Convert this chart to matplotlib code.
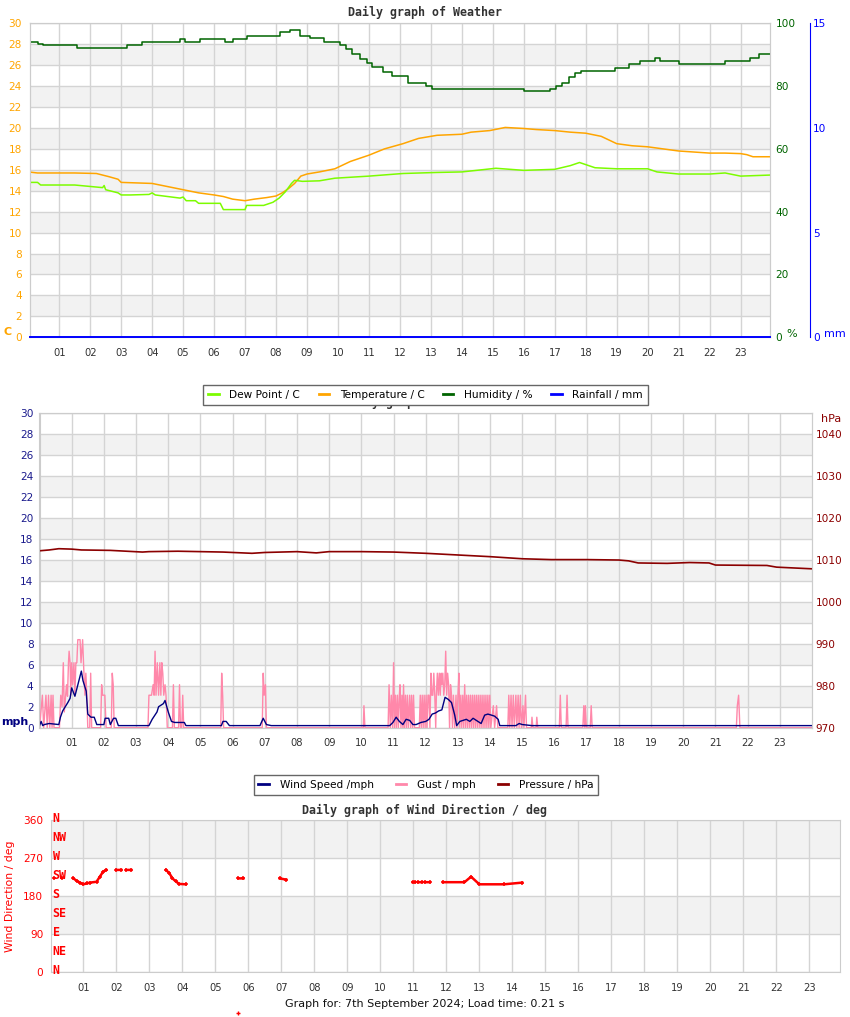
import numpy as np
import matplotlib
matplotlib.use('Agg')
from matplotlib import pyplot as plt
from matplotlib.lines import Line2D
from matplotlib import transforms

W, H = 850, 1017
nan = np.nan

hour_ticks = list(range(1, 24))
hour_labels = ['%02d' % h for h in hour_ticks]

# ---- weather (top) ----
temp_h = [0, 0.3, 0.8, 1.5, 2.2, 2.6, 2.9, 3.0, 3.5, 4.0, 4.5, 5.0, 5.5, 6.0, 6.3, 6.6, 7.0, 7.3,
          7.7, 8.0, 8.2, 8.4, 8.6, 8.8, 9.0, 9.4, 9.9, 10.4, 11.0, 11.5, 12.1, 12.6, 13.2, 14.0,
          14.3, 14.9, 15.4, 16.0, 16.4, 17.0, 17.5, 18.0, 18.5, 19.0, 19.5, 20.0, 20.5, 21.0,
          21.5, 22.0, 22.5, 23.0, 23.2, 23.4, 23.95]
temp_c = [15.8, 15.7, 15.7, 15.7, 15.65, 15.35, 15.1, 14.8, 14.75, 14.7, 14.4, 14.1, 13.8, 13.6,
          13.45, 13.2, 13.05, 13.2, 13.35, 13.5, 13.8, 14.2, 14.7, 15.4, 15.6, 15.8, 16.1, 16.8,
          17.4, 18.0, 18.5, 19.0, 19.3, 19.4, 19.6, 19.75, 20.05, 19.95, 19.85, 19.75, 19.6,
          19.5, 19.2, 18.5, 18.3, 18.2, 18.0, 17.8, 17.7, 17.6, 17.6, 17.55, 17.45, 17.25, 17.25]

dew_h = [0, 0.3, 0.4, 1.5, 2.4, 2.45, 2.5, 2.9, 3.0, 3.3, 3.9, 4.0, 4.1, 4.9, 5.0, 5.1, 5.4, 5.5,
         6.2, 6.3, 7.0, 7.05, 7.6, 7.9, 8.1, 8.3, 8.5, 8.6, 8.85, 9.4, 9.9, 11.0, 12.1, 13.2, 14.0,
         15.1, 16.0, 17.0, 17.5, 17.8, 18.3, 19.0, 20.0, 20.3, 21.0, 22.0, 22.5, 23.0, 23.95]
dew_c = [14.8, 14.8, 14.55, 14.55, 14.3, 14.5, 14.1, 13.8, 13.6, 13.6, 13.65, 13.8, 13.6, 13.3,
         13.4, 13.05, 13.05, 12.8, 12.8, 12.2, 12.2, 12.6, 12.6, 12.9, 13.3, 13.9, 14.7, 15.0,
         14.9, 14.95, 15.2, 15.4, 15.65, 15.75, 15.8, 16.15, 15.95, 16.05, 16.4, 16.7, 16.2,
         16.1, 16.1, 15.8, 15.6, 15.6, 15.7, 15.4, 15.5]

hum_h = [0, 0.33, 0.46, 1.58, 3.18, 3.66, 4.04, 4.9, 5.06, 5.54, 6.35, 6.62, 7.05, 8.13, 8.45,
         8.77, 9.1, 9.55, 10.05, 10.25, 10.45, 10.7, 10.95, 11.1, 11.45, 11.75, 12.25, 12.85,
         13.05, 16.0, 16.85, 17.05, 17.25, 17.45, 17.65, 17.85, 18.95, 19.4, 19.75, 20.25, 20.4,
         21.0, 22.5, 23.3, 23.6, 23.95]
hum_pct = [93.9, 93.3, 93.1, 92.0, 93.1, 93.9, 93.9, 94.9, 93.9, 94.9, 93.9, 95.0, 96.0, 97.1,
           97.8, 96.0, 95.2, 94.0, 93.1, 91.7, 90.1, 88.5, 87.3, 86.0, 84.6, 83.2, 80.9, 80.0,
           79.1, 78.3, 79.0, 80.0, 80.9, 83.0, 84.1, 84.9, 85.9, 86.9, 87.9, 88.9, 87.9, 87.0,
           87.9, 88.9, 90.2, 90.2]

rain_h = [0.04, 23.95]
rain_mm = [0, 0]

# ---- wind / pressure (middle) ----
wind_h = [0, 0.05, 0.1, 0.15, 0.3, 0.6, 0.65, 0.72, 0.8, 0.88, 0.95, 1.0, 1.05, 1.1, 1.2, 1.3,
          1.35, 1.45, 1.5, 1.6, 1.7, 1.78, 2.0, 2.04, 2.15, 2.2, 2.3, 2.37, 2.45, 3.4, 3.5, 3.65,
          3.7, 3.85, 3.9, 4.0, 4.1, 4.2, 4.5, 4.55, 5.65, 5.7, 5.8, 5.9, 6.85, 6.95, 7.05, 7.2,
          10.88, 10.98, 11.08, 11.18, 11.29, 11.39, 11.5, 11.6, 11.7, 11.85, 12.0, 12.1, 12.2,
          12.3, 12.4, 12.5, 12.6, 12.7, 12.8, 12.9, 12.96, 13.06, 13.16, 13.26, 13.37, 13.47,
          13.57, 13.72, 13.83, 13.93, 14.04, 14.14, 14.25, 14.3, 14.8, 14.9, 15.0, 15.3, 24.0]
wind_mph = [0.2, 0.6, 0.2, 0.3, 0.4, 0.3, 1.0, 1.6, 2.0, 2.4, 2.8, 3.8, 3.4, 3.0, 4.2, 5.4,
            4.5, 3.5, 1.3, 1.0, 1.0, 0.3, 0.3, 0.9, 0.9, 0.3, 0.9, 0.9, 0.2, 0.2, 0.8, 1.5,
            2.0, 2.3, 2.6, 1.5, 0.6, 0.5, 0.5, 0.2, 0.2, 0.6, 0.6, 0.2, 0.2, 0.9, 0.3, 0.2,
            0.2, 0.5, 1.0, 0.6, 0.3, 0.8, 0.7, 0.3, 0.3, 0.5, 0.6, 0.8, 1.3,
            1.4, 1.6, 1.7, 2.9, 2.7, 2.4, 1.2, 0.2, 0.6, 0.7, 0.8, 0.6, 0.9,
            0.7, 0.4, 1.2, 1.3, 1.2, 1.1, 0.8, 0.2, 0.2, 0.4, 0.3, 0.2, 0.2]

# gust readings as (hour, mph)
gust_pts = [(0.0, 0), (0.09, 3.1), (0.13, 0), (0.2, 3.1), (0.24, 0), (0.28, 3.1), (0.32, 0),
            (0.36, 3.1), (0.39, 0), (0.42, 3.1), (0.45, 0), (0.62, 0), (0.66, 3.1), (0.7, 2.0),
            (0.74, 6.2), (0.77, 1.5), (0.84, 4.1), (0.87, 3.0), (0.9, 6.2), (0.92, 7.3),
            (0.95, 6.2), (0.97, 3.1), (1.0, 6.2), (1.03, 4.1), (1.07, 6.2), (1.1, 3.1),
            (1.13, 6.2), (1.16, 6.2), (1.19, 8.4), (1.26, 8.4), (1.29, 6.2), (1.34, 8.4),
            (1.38, 5.2), (1.41, 3.1), (1.44, 5.2), (1.47, 3.1), (1.5, 0), (1.56, 0), (1.59, 5.2),
            (1.62, 0), (1.9, 0), (1.93, 4.1), (1.96, 3.1), (2.03, 3.1), (2.07, 0), (2.23, 0),
            (2.26, 5.2), (2.29, 4.1), (2.32, 0), (3.37, 0), (3.4, 3.1), (3.48, 3.1), (3.53, 4.1),
            (3.56, 3.1), (3.59, 7.3), (3.62, 3.1), (3.66, 6.2), (3.7, 3.1), (3.74, 6.2),
            (3.77, 3.1), (3.8, 6.2), (3.83, 5.2), (3.86, 3.1), (3.9, 4.1), (3.93, 3.1), (3.97, 0),
            (4.13, 0), (4.16, 4.1), (4.19, 0), (4.32, 0), (4.35, 4.1), (4.38, 0), (4.42, 0),
            (4.45, 3.1), (4.48, 0), (5.63, 0), (5.66, 5.2), (5.69, 3.1), (5.72, 0), (6.92, 0),
            (6.95, 5.2), (6.98, 3.1), (7.02, 4.1), (7.05, 0), (10.06, 0), (10.08, 2.1),
            (10.11, 0), (10.83, 0), (10.86, 4.1), (10.9, 0), (10.93, 3.1), (10.97, 0),
            (11.0, 6.2), (11.03, 0), (11.06, 3.1), (11.09, 0), (11.12, 3.1), (11.15, 0),
            (11.18, 3.1), (11.2, 4.1), (11.23, 0), (11.26, 3.1), (11.29, 0), (11.31, 4.1),
            (11.34, 0), (11.37, 3.1), (11.4, 0), (11.43, 3.1), (11.46, 0), (11.5, 3.1),
            (11.53, 0), (11.56, 3.1), (11.59, 0), (11.62, 3.1), (11.65, 0), (11.8, 0),
            (11.83, 3.1), (11.86, 0), (11.89, 3.1), (11.92, 0), (11.95, 3.1), (11.98, 0),
            (12.01, 3.1), (12.04, 0), (12.07, 3.1), (12.1, 3.1), (12.13, 0), (12.16, 5.2),
            (12.19, 3.1), (12.22, 3.1), (12.25, 5.2), (12.28, 3.1), (12.31, 0), (12.33, 3.1),
            (12.36, 5.2), (12.39, 3.1), (12.42, 5.2), (12.45, 3.1), (12.48, 5.2), (12.5, 4.1),
            (12.53, 5.2), (12.56, 3.1), (12.59, 4.1), (12.62, 7.3), (12.65, 3.1), (12.68, 5.2),
            (12.71, 4.1), (12.74, 0), (12.77, 4.1), (12.8, 3.1), (12.83, 0), (12.86, 3.1),
            (12.9, 0), (12.94, 3.1), (12.97, 0), (13.0, 3.1), (13.03, 5.2), (13.06, 0),
            (13.09, 3.1), (13.12, 0), (13.15, 3.1), (13.18, 0), (13.21, 4.1), (13.24, 0),
            (13.27, 3.1), (13.3, 0), (13.33, 3.1), (13.36, 0), (13.39, 3.1), (13.42, 0),
            (13.45, 3.1), (13.48, 0), (13.51, 3.1), (13.54, 0), (13.57, 3.1), (13.6, 0),
            (13.63, 3.1), (13.66, 0), (13.69, 3.1), (13.72, 0), (13.75, 3.1), (13.78, 0),
            (13.81, 3.1), (13.84, 0), (13.87, 3.1), (13.9, 0), (13.93, 3.1), (13.96, 0),
            (13.99, 3.1), (14.02, 0), (14.1, 2.1), (14.14, 0), (14.2, 2.1), (14.24, 0),
            (14.55, 0), (14.58, 3.1), (14.61, 0), (14.65, 3.1), (14.68, 0), (14.72, 3.1),
            (14.75, 0), (14.8, 3.1), (14.83, 0), (14.87, 3.1), (14.9, 0), (14.94, 3.1),
            (14.97, 0), (15.02, 2.1), (15.05, 0), (15.1, 3.1), (15.13, 0), (15.28, 0),
            (15.3, 1.0), (15.33, 0), (15.43, 0), (15.45, 1.0), (15.48, 0), (16.15, 0),
            (16.18, 3.1), (16.21, 0), (16.36, 0), (16.39, 3.1), (16.42, 0), (16.88, 0),
            (16.91, 2.1), (16.94, 0), (16.96, 2.1), (16.99, 0), (17.11, 0), (17.14, 2.1),
            (17.17, 0), (21.65, 0), (21.68, 2.1), (21.72, 3.1), (21.76, 0), (24.0, 0)]

pres_h = [0, 0.3, 0.6, 1.0, 1.3, 2.2, 3.2, 3.4, 4.3, 5.0, 5.7, 6.6, 7.0, 8.0, 8.6, 9.0, 10.0,
          11.0, 12.0, 13.0, 14.0, 15.0, 15.9, 17.0, 18.0, 18.3, 18.6, 19.5, 20.2, 20.8, 21.0,
          22.6, 22.9, 24.0]
pres_hpa = [1012.2, 1012.4, 1012.7, 1012.6, 1012.4, 1012.3, 1011.9, 1012.0, 1012.1, 1012.0,
            1011.9, 1011.6, 1011.8, 1012.0, 1011.7, 1012.0, 1012.0, 1011.9, 1011.6, 1011.2,
            1010.8, 1010.3, 1010.1, 1010.1, 1010.0, 1009.8, 1009.3, 1009.2, 1009.4, 1009.3,
            1008.8, 1008.7, 1008.3, 1007.9]

# ---- wind direction (bottom) ----
dir_h = [0.1, nan, 0.35, nan, 0.7, 0.8, 0.9, 1.0, 1.1, 1.2, 1.4, 1.5, 1.6, 1.7, nan, 2.0, 2.15,
         nan, 2.3, 2.45, nan, 3.5, 3.6, 3.7, 3.8, 3.9, 4.1, nan, 5.7, 5.85, nan, 6.95, 7.15, nan,
         10.98, 11.05, nan, 11.15, 11.25, nan, 11.35, 11.5, nan, 11.9, 12.55, 12.75, 13.0,
         13.75, 14.3]
dir_deg = [222, nan, 222, nan, 222, 216, 212, 208, 210, 212, 214, 226, 238, 242, nan, 242, 242,
           nan, 242, 242, nan, 242, 235, 222, 215, 209, 208, nan, 222, 222, nan, 222, 219, nan,
           213, 213, nan, 213, 213, nan, 213, 213, nan, 213, 213, 226, 208, 208, 212]

compass = ['N', 'NE', 'E', 'SE', 'S', 'SW', 'W', 'NW', 'N']
compass_deg = [0, 45, 90, 135, 180, 225, 270, 315, 360]

BAND = '#f2f2f2'
GRID = '#d4d4d4'


def rect(left, top, right, bottom):
    return [left / W, 1 - bottom / H, (right - left) / W, (bottom - top) / H]


def fig_text(x, y, s, **kw):
    fig.text(x / W, 1 - y / H, s, **kw)


def base_axes(box, xlim, ylim, bands, ylab_color, ypad):
    ax = fig.add_axes(box)
    ax.set_xlim(xlim)
    ax.set_ylim(ylim)
    for lo, hi in bands:
        ax.axhspan(lo, hi, color=BAND, lw=0, zorder=0)
    ax.set_xticks(hour_ticks)
    ax.set_xticklabels(hour_labels)
    ax.grid(True, color=GRID, lw=1)
    ax.set_axisbelow(True)
    ax.tick_params(axis='x', length=0, labelsize=7.2, labelcolor='#333333', pad=7.5)
    ax.tick_params(axis='y', length=0, labelsize=7.6, labelcolor=ylab_color, pad=ypad)
    for s in ax.spines.values():
        s.set_color('#cccccc')
    return ax


fig = plt.figure(figsize=(8.5, 10.17), dpi=100)
title_font = dict(family='DejaVu Sans Mono', weight='bold', fontsize=8.4, color='#333333',
                  ha='center', va='center')

# ---------------- top panel ----------------
ax_t = base_axes(rect(29.5, 23.3, 770, 337.3), (0.04, 23.95), (0, 30),
                 [(b, b + 2) for b in range(2, 30, 4)], '#ffa500', 5.5)
ax_t.set_yticks(range(0, 31, 2))
ax_t.plot(temp_h, temp_c, color='#ffa500', lw=1.1, zorder=3)
ax_t.plot(dew_h, dew_c, color='#7cfc00', lw=1.1, zorder=3)

ax_h = ax_t.twinx()
ax_h.set_ylim(0, 100)
ax_h.set_yticks(range(0, 101, 20))
ax_h.tick_params(length=0, labelsize=7.6, labelcolor='#006400', pad=4)
ax_h.plot(hum_h, hum_pct, color='#006400', lw=1.1, drawstyle='steps-post')
for s in ax_h.spines.values():
    s.set_color('#cccccc')

ax_r = ax_t.twinx()
ax_r.set_ylim(0, 15)
ax_r.set_yticks([0, 5, 10, 15])
ax_r.spines['right'].set_position(('axes', (810 - 29.5) / (770 - 29.5)))
ax_r.spines['right'].set_color('#0000ff')
for k in ['top', 'left', 'bottom']:
    ax_r.spines[k].set_visible(False)
ax_r.tick_params(length=0, labelsize=7.6, labelcolor='#0000ff', pad=2.4)
ax_r.plot(rain_h, rain_mm, color='#0000ff', lw=1.4, clip_on=False)

fig_text(425, 12, 'Daily graph of Weather', **title_font)
fig_text(4, 332, 'C', color='#ffa500', fontsize=8, weight='bold', va='center')
fig_text(786, 334, '%', color='#006400', fontsize=8, va='center')
fig_text(824, 334, 'mm', color='#0000ff', fontsize=8, va='center')

fig.legend(handles=[Line2D([], [], color=c, lw=2) for c in ['#7cfc00', '#ffa500', '#006400', '#0000ff']],
           labels=['Dew Point / C', 'Temperature / C', 'Humidity / %', 'Rainfall / mm'],
           loc='center', bbox_to_anchor=(425.5 / W, 1 - 395 / H), ncol=4, fontsize=7.6,
           frameon=True, fancybox=False, edgecolor='#666666', framealpha=1,
           handlelength=1.0, handletextpad=1.0, columnspacing=1.75, borderpad=0.45)

# ---------------- middle panel ----------------
# title of the wind graph sits mostly under the weather legend, as on the site
fig_text(425, 402, 'Daily graph of Pressure', zorder=1, **title_font)
ax_w = base_axes(rect(39.5, 413.3, 812, 727.7), (0, 24.0), (0, 30),
                 [(b, b + 2) for b in range(2, 30, 4)], '#1a1a8c', 4.3)
ax_w.set_yticks(range(0, 31, 2))
gust_h = [p[0] for p in gust_pts]
gust_mph = [p[1] for p in gust_pts]
ax_w.plot(gust_h, gust_mph, color='#ff88aa', lw=1.0, zorder=3)
ax_w.plot(wind_h, wind_mph, color='#000080', lw=1.0, zorder=4)

ax_p = ax_w.twinx()
ax_p.set_ylim(970, 1045)
ax_p.set_yticks(range(970, 1041, 10))
ax_p.tick_params(length=0, labelsize=7.6, labelcolor='#8b0000', pad=2.7)
for s in ax_p.spines.values():
    s.set_color('#cccccc')
ax_p.plot(pres_h, pres_hpa, color='#8b0000', lw=1.2)

fig_text(1, 722, 'mph', color='#000080', fontsize=8, weight='bold', va='center')
fig_text(821, 419, 'hPa', color='#8b0000', fontsize=8, va='center')

fig.legend(handles=[Line2D([], [], color=c, lw=2) for c in ['#000080', '#ff88aa', '#8b0000']],
           labels=['Wind Speed /mph', 'Gust / mph', 'Pressure / hPa'],
           loc='center', bbox_to_anchor=(426 / W, 1 - 785 / H), ncol=3, fontsize=7.6,
           frameon=True, fancybox=False, edgecolor='#666666', framealpha=1,
           handlelength=1.0, handletextpad=1.0, columnspacing=2.1, borderpad=0.45)

# ---------------- bottom panel ----------------
fig_text(425, 810, 'Daily graph of Wind Direction / deg', **title_font)
ax_d = base_axes(rect(51, 820, 840, 972.3), (0.02, 23.93), (0, 360),
                 [(90, 180), (270, 360)], '#ff0000', 5.5)
ax_d.set_yticks([0, 90, 180, 270, 360])
ax_d.set_ylabel('Wind Direction / deg', color='#ff0000', fontsize=7.8, labelpad=6)
ax_d.plot(dir_h, dir_deg, color='#ff0000', lw=1.8, marker='+', ms=3.5, mew=1.1, zorder=3)
trans = transforms.blended_transform_factory(ax_d.transAxes, ax_d.transData)
for name, deg in zip(compass, compass_deg):
    ax_d.text(0.002, deg + 4, name, transform=trans, color='#ff0000', fontsize=8.4,
              family='DejaVu Sans Mono', weight='bold', va='center', ha='left', clip_on=False)

fig_text(425, 1004, 'Graph for: 7th September 2024; Load time: 0.21 s', fontsize=8,
         color='#111111', ha='center', va='center')
fig.add_artist(Line2D([238 / W], [1 - 1013 / H], marker='+', color='#ff0000', ms=3,
                      transform=fig.transFigure))

fig.savefig('out.png', dpi=100)
